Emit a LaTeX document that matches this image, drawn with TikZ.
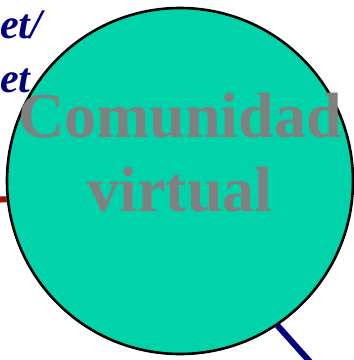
\documentclass[tikz,border=0pt]{standalone}
\usepackage{fontspec}
\setmainfont{Liberation Serif}
\usetikzlibrary{positioning,backgrounds}

\definecolor{verdeagua}{RGB}{0,211,170}
\definecolor{rojo}{RGB}{160,16,0}
\definecolor{azul}{RGB}{0,0,128}

\begin{document}
\begin{tikzpicture}[
  x=1pt, y=-1pt,
  comunidad/.style={circle, draw=black, line width=2.6pt, fill=verdeagua,
                    minimum size=346pt, inner sep=0pt},
  titulo/.style   ={font=\fontsize{64}{74}\selectfont\bfseries, text=black!50,
                    align=center, inner sep=0pt},
  red/.style      ={font=\fontsize{42}{48}\selectfont\bfseries\itshape, text=azul,
                    inner sep=0pt, anchor=base west},
  enlace/.style   ={line width=6pt},
]
\useasboundingbox (0,0) rectangle (354,360);

\coordinate (izq)   at (-10,200);
\coordinate (abajo) at (320,373);

\node[comunidad] (cv) at (180,181) {};
\node[titulo] (texto) at (180,153) {Comunidad\\virtual};

\begin{scope}[on background layer]
  \draw[enlace, rojo] (izq) -- (cv.186);
  \draw[enlace, azul] (cv.-56) -- (abajo);
\end{scope}

\node[red] (linea1) at (0,38) {et/};
\node[red] (linea2) at (0,92) {et};

\end{tikzpicture}
\end{document}
